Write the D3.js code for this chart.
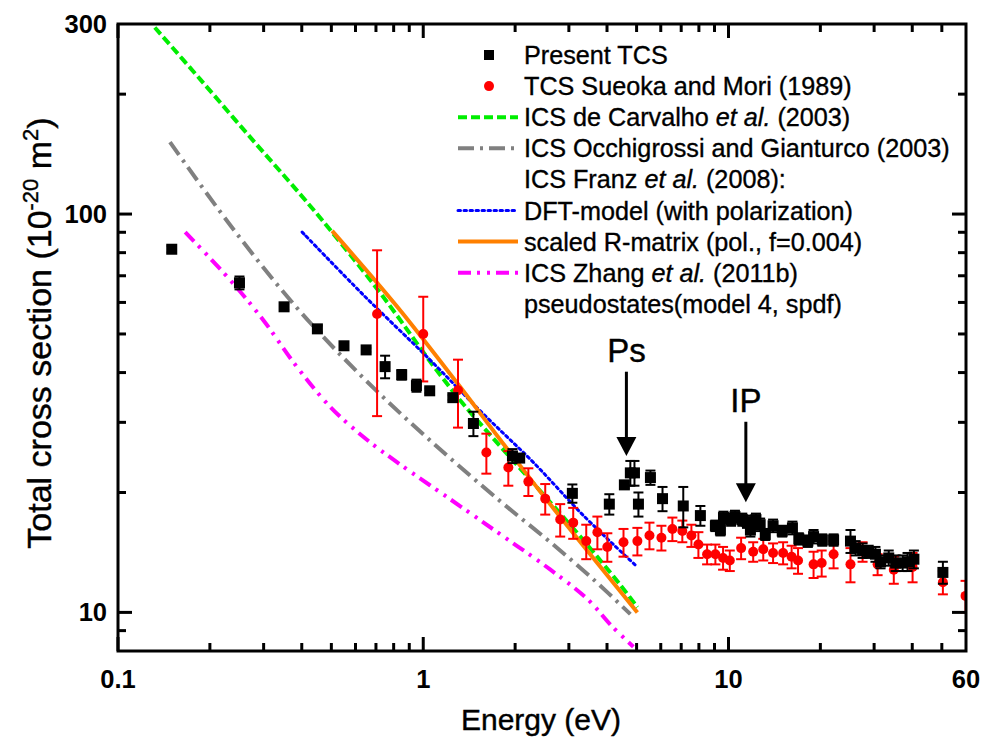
<!DOCTYPE html>
<html>
<head>
<meta charset="utf-8">
<script src="https://cdn.jsdelivr.net/npm/d3@7"></script>
<style>
  body { margin: 0; background: #fff; }
  text { font-family: "Liberation Sans", Arial, sans-serif; }
</style>
</head>
<body>
<svg id="chart" width="981" height="738"></svg>
<script>
// Present TCS (black squares)
const presentE = [0.15, 0.25, 0.35, 0.45, 0.55, 0.65, 0.75, 0.85, 0.95, 1.05, 1.25, 1.46, 1.96, 2.07, 3.08, 4.07, 4.56, 4.77, 4.92, 5.07,
  5.55, 6.08, 7.11, 8.09, 9.06, 9.41, 9.63, 10.2, 10.5, 11.1, 11.5, 11.8, 12.3, 12.7, 13.2, 14.0, 15.0, 16.2, 17.0, 18.2,
  19.0, 20.3, 22.1, 25.1, 26.1, 27.5, 28.8, 30.3, 31.5, 33.5, 35.3, 37.2, 38.6, 40.5, 50.4];
const presentTCS = [81.6, 67.2, 58.5, 51.5, 46.7, 45.6, 41.4, 39.5, 37.1, 36.0, 34.6, 29.8, 24.7, 24.4, 19.9, 18.7, 20.9, 22.4, 22.4, 18.7,
  21.8, 19.3, 18.5, 17.5, 16.5, 16.1, 17.3, 17.1, 17.4, 17.1, 16.9, 16.1, 17.1, 16.6, 15.7, 16.5, 16.0, 16.3, 15.3, 15.1,
  15.5, 15.2, 15.2, 15.1, 14.5, 14.3, 14.2, 14.0, 13.4, 13.7, 13.3, 13.3, 13.4, 13.6, 12.6];
const presentErr = [1.5, 2.5, 1.0, 1.0, 0.5, 0.5, 2.7, 1.1, 1.3, 0.5, 0.5, 2.1, 1.0, 0.5, 1.05, 1.1, 0.4, 1.6, 1.6, 1.3,
  0.9, 1.35, 2.15, 1.0, 0.5, 0.5, 0.6, 0.6, 0.6, 0.6, 0.6, 0.6, 0.6, 0.6, 0.5, 0.6, 0.5, 0.6, 0.5, 0.5,
  0.6, 0.5, 0.5, 1.0, 0.6, 0.6, 0.5, 0.6, 0.5, 0.6, 0.6, 0.6, 0.7, 0.7, 0.8];

// TCS Sueoka and Mori (1989) (red circles)
const sueokaE = [0.706, 1.0, 1.30, 1.61, 1.90, 2.21, 2.51, 2.81, 3.10, 3.42, 3.72, 4.01, 4.53, 5.03, 5.51, 6.03, 6.55, 7.06, 7.56, 7.97,
  8.51, 9.06, 9.60, 10.1, 11.0, 12.05, 13.0, 14.0, 15.1, 16.1, 16.9, 19.0, 20.2, 22.1, 25.1, 27.5, 30.8, 34.8, 40.1, 50.4, 59.8];
const sueokaTCS = [56.1, 50.0, 36.1, 25.2, 23.1, 21.3, 19.3, 17.1, 16.8, 15.1, 15.9, 14.6, 15.0, 15.1, 15.6, 15.4, 16.2, 16.0, 15.6, 14.8,
  14.0, 14.0, 13.7, 13.5, 14.5, 14.2, 14.4, 14.1, 14.1, 13.8, 13.5, 13.2, 13.3, 14.0, 13.2, 14.2, 13.2, 12.8, 13.0, 11.9, 11.0];
const sueokaErr = [25, 12, 7, 2.9, 2.3, 1.7, 1.7, 1.6, 1.5, 1.5, 1.5, 1.2, 1.2, 1.2, 1.2, 1.1, 1.1, 1.0, 1.0, 1.1,
  0.8, 0.8, 0.9, 0.8, 0.9, 0.8, 0.9, 0.8, 0.9, 0.9, 1.0, 1.0, 1.0, 1.1, 1.3, 0.8, 0.8, 1.0, 1.1, 0.8, 1.0];

// theory curves
const carvalhoE = [0.132, 0.186, 0.271, 0.395, 0.496, 0.740, 1.079, 1.35, 1.79, 2.47, 3.27, 4.43, 5.03];
const carvalhoICS = [294, 217.8, 156, 112.2, 91.2, 61.9, 41.6, 33.4, 26.1, 19.8, 15.5, 11.7, 10.3];

const occhiE = [0.148, 0.233, 0.386, 0.636, 1.054, 1.79, 2.61, 3.61, 4.77];
const occhiICS = [151.5, 93.9, 58.1, 38.8, 27.0, 19.0, 15.0, 12.1, 9.9];

const dftE = [0.401, 0.636, 1.054, 1.573, 2.295, 3.35, 5.03];
const dftICS = [90.1, 62.7, 43.0, 31.5, 23.8, 17.5, 13.0];

const rmatE = [0.503, 0.822, 1.29, 1.79, 2.61, 5.03];
const rmatICS = [90.7, 58.5, 37.7, 27.1, 18.65, 10.0];

const zhangE = [0.166, 0.233, 0.299, 0.386, 0.496, 0.636, 0.822, 1.23, 1.79, 2.61, 3.45, 4.17, 4.88];
const zhangICS = [90.1, 68.3, 54.2, 41.3, 32.8, 27.6, 23.8, 19.2, 15.7, 12.8, 10.8, 9.2, 8.2];

// annotations: label, energy, arrow top / bottom value
const arrowLabels = ["Ps", "IP"];
const arrowE = [4.63, 11.4];
const arrowTop = [40.2, 30.1];
const arrowTip = [24.7, 18.9];

const xTickLabels = [0.1, 1, 10, 60];
const yTickLabels = [10, 100, 300];

const svg = d3.select("#chart");
const pLeft = 118, pRight = 966, pTop = 24, pBottom = 651;

const x = d3.scaleLog().domain([0.1, 60]).range([pLeft, pRight]);
const y = d3.scaleLog().domain([8, 300]).range([pBottom, pTop]);

svg.append("defs").append("clipPath").attr("id", "plotClip")
  .append("rect").attr("x", pLeft).attr("y", pTop).attr("width", pRight - pLeft).attr("height", pBottom - pTop);

const plot = svg.append("g").attr("clip-path", "url(#plotClip)");

function curve(E, V) { return E.map((e, i) => [x(e), y(V[i])]); }
const line = d3.line().curve(d3.curveCatmullRom.alpha(0.5));

const styles = [
  { E: zhangE, V: zhangICS, color: "#ff00ff", dash: "13,6,3,7,3,6", w: 4 },
  { E: occhiE, V: occhiICS, color: "#808080", dash: "16,6,3,6", w: 4 },
  { E: carvalhoE, V: carvalhoICS, color: "#00ee00", dash: "9,4", w: 4 },
  { E: dftE, V: dftICS, color: "#0000ff", dash: "2.5,3.5", w: 3 },
  { E: rmatE, V: rmatICS, color: "#ff8000", dash: null, w: 4 }
];
styles.forEach(s => {
  plot.append("path")
    .attr("d", line(curve(s.E, s.V)))
    .attr("fill", "none")
    .attr("stroke", s.color)
    .attr("stroke-width", s.w)
    .attr("stroke-dasharray", s.dash)
    .attr("stroke-linecap", s.dash && s.w === 3 ? "round" : "butt");
});

// red data
const red = plot.append("g");
sueokaE.forEach((e, i) => {
  const cx = x(e), v = sueokaTCS[i], er = sueokaErr[i];
  const y1 = y(v + er), y2 = y(v - er);
  red.append("line").attr("x1", cx).attr("x2", cx).attr("y1", y1).attr("y2", y2)
    .attr("stroke", "#ff0000").attr("stroke-width", 2);
  [y1, y2].forEach(yy => red.append("line").attr("x1", cx - 5).attr("x2", cx + 5).attr("y1", yy).attr("y2", yy)
    .attr("stroke", "#ff0000").attr("stroke-width", 2));
  red.append("circle").attr("cx", cx).attr("cy", y(v)).attr("r", 5).attr("fill", "#ff0000");
});

// black data
const blk = plot.append("g");
presentE.forEach((e, i) => {
  const cx = x(e), v = presentTCS[i], er = presentErr[i];
  const y1 = y(v + er), y2 = y(v - er);
  blk.append("line").attr("x1", cx).attr("x2", cx).attr("y1", y1).attr("y2", y2)
    .attr("stroke", "#000").attr("stroke-width", 2);
  [y1, y2].forEach(yy => blk.append("line").attr("x1", cx - 5).attr("x2", cx + 5).attr("y1", yy).attr("y2", yy)
    .attr("stroke", "#000").attr("stroke-width", 2));
  blk.append("rect").attr("x", cx - 5.5).attr("y", y(v) - 5.5).attr("width", 11).attr("height", 11).attr("fill", "#000");
});

// axes with ticks inside, mirrored
const xMinor = [];
[0.1, 1, 10].forEach(d => { for (let k = 2; k <= 9; k++) if (d * k < 60) xMinor.push(d * k); });
const yMinor = [9, 20, 30, 40, 50, 60, 70, 80, 90, 200];
const xMajor = [0.1, 1, 10];
const yMajor = [10, 100];

const ax = svg.append("g").attr("stroke", "#000").attr("stroke-width", 3);
function tick(x1, y1, x2, y2) { ax.append("line").attr("x1", x1).attr("y1", y1).attr("x2", x2).attr("y2", y2); }
xMajor.forEach(d => { tick(x(d), pBottom, x(d), pBottom - 14); tick(x(d), pTop, x(d), pTop + 14); });
xMinor.forEach(d => { tick(x(d), pBottom, x(d), pBottom - 8); tick(x(d), pTop, x(d), pTop + 8); });
yMajor.forEach(d => { tick(pLeft, y(d), pLeft + 14, y(d)); tick(pRight, y(d), pRight - 14, y(d)); });
yMinor.forEach(d => { tick(pLeft, y(d), pLeft + 8, y(d)); tick(pRight, y(d), pRight - 8, y(d)); });
ax.append("rect").attr("x", pLeft).attr("y", pTop).attr("width", pRight - pLeft).attr("height", pBottom - pTop)
  .attr("fill", "none");

svg.append("g").selectAll("text").data(xTickLabels).join("text")
  .attr("x", d => x(d)).attr("y", pBottom + 37)
  .attr("text-anchor", "middle").attr("font-size", 25.5).attr("font-weight", "bold")
  .text(d => d);
svg.append("g").selectAll("text").data(yTickLabels).join("text")
  .attr("x", pLeft - 11).attr("y", d => y(d) + 9)
  .attr("text-anchor", "end").attr("font-size", 25.5).attr("font-weight", "bold")
  .text(d => d);

// axis titles
svg.append("text").attr("x", 541).attr("y", 730).attr("text-anchor", "middle")
  .attr("font-size", 30).attr("stroke", "#000").attr("stroke-width", 0.4).text("Energy (eV)");
const yt = svg.append("text").attr("transform", "translate(51,333) rotate(-90)")
  .attr("text-anchor", "middle").attr("font-size", 34).attr("stroke", "#000").attr("stroke-width", 0.4);
yt.append("tspan").text("Total cross section (10");
yt.append("tspan").attr("dy", -13).attr("font-size", 22).text("-20");
yt.append("tspan").attr("dy", 13).text(" m");
yt.append("tspan").attr("dy", -13).attr("font-size", 22).text("2");
yt.append("tspan").attr("dy", 13).text(")");

// arrows
arrowLabels.forEach((lab, i) => {
  const ax0 = x(arrowE[i]), yTop = y(arrowTop[i]), yTip = y(arrowTip[i]);
  svg.append("line").attr("x1", ax0).attr("x2", ax0).attr("y1", yTop).attr("y2", yTip - 15)
    .attr("stroke", "#000").attr("stroke-width", 3);
  svg.append("path").attr("d", `M${ax0 - 10},${yTip - 19} L${ax0 + 10},${yTip - 19} L${ax0},${yTip} Z`).attr("fill", "#000");
  svg.append("text").attr("x", ax0).attr("y", yTop - 10).attr("text-anchor", "middle")
    .attr("font-size", 33).attr("stroke", "#000").attr("stroke-width", 0.4).text(lab);
});

// legend
const legend = [
  { type: "square", text: ["Present TCS"] },
  { type: "circle", text: ["TCS Sueoka and Mori (1989)"] },
  { type: "line", color: "#00ee00", dash: "9,4", w: 4, text: ["ICS de Carvalho ", "et al.", " (2003)"] },
  { type: "line", color: "#808080", dash: "16,6,3,6", w: 4, text: ["ICS Occhigrossi and Gianturco (2003)"] },
  { type: "none", text: ["ICS Franz ", "et al.", " (2008):"] },
  { type: "line", color: "#0000ff", dash: "2.5,3.5", w: 3, round: true, text: ["DFT-model (with polarization)"] },
  { type: "line", color: "#ff8000", dash: null, w: 4, text: ["scaled R-matrix (pol., f=0.004)"] },
  { type: "line", color: "#ff00ff", dash: "13,6,3,7,3,6", w: 4, text: ["ICS Zhang ", "et al.", " (2011b)"] },
  { type: "none", text: ["pseudostates(model 4, spdf)"] }
];
const lg = svg.append("g");
legend.forEach((d, i) => {
  const cy = 55 + i * 31.1;
  if (d.type === "square") lg.append("rect").attr("x", 484).attr("y", cy - 5).attr("width", 10).attr("height", 10).attr("fill", "#000");
  if (d.type === "circle") lg.append("circle").attr("cx", 489).attr("cy", cy).attr("r", 5).attr("fill", "#ff0000");
  if (d.type === "line") lg.append("line").attr("x1", 458).attr("x2", 518).attr("y1", cy).attr("y2", cy)
    .attr("stroke", d.color).attr("stroke-width", d.w).attr("stroke-dasharray", d.dash)
    .attr("stroke-linecap", d.round ? "round" : "butt");
  const t = lg.append("text").attr("x", 524).attr("y", cy + 9).attr("font-size", 25.2)
    .attr("stroke", "#000").attr("stroke-width", 0.35);
  d.text.forEach((s, k) => t.append("tspan").attr("font-style", k === 1 ? "italic" : "normal").text(s));
});
</script>
</body>
</html>
